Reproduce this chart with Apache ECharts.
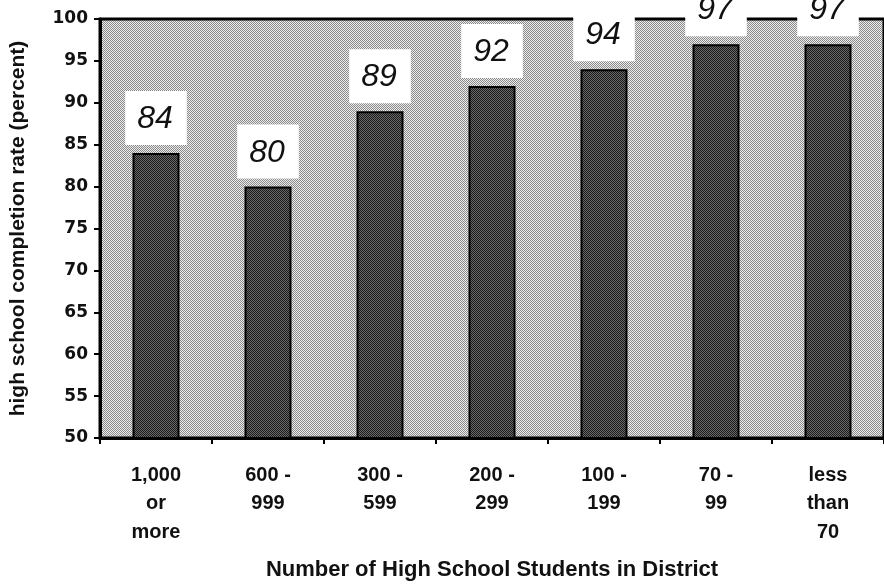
<!DOCTYPE html>
<html>
<head>
<meta charset="utf-8">
<script src="https://cdn.jsdelivr.net/npm/echarts@6/dist/echarts.min.js"></script>
<style>
html,body{margin:0;padding:0;background:#fff;}
#chart{width:884px;height:586px;}
</style>
</head>
<body>
<div id="chart"></div>
<script>
var categories = ['1,000\nor\nmore', '600 -\n999', '300 -\n599', '200 -\n299', '100 -\n199', '70 -\n99', 'less\nthan\n70'];
var completionRates = [84, 80, 89, 92, 94, 97, 97];
var yTicks = [50, 55, 60, 65, 70, 75, 80, 85, 90, 95, 100];

function makePattern(bg, fg, size) {
  var c = document.createElement('canvas');
  c.width = size; c.height = size;
  var ctx = c.getContext('2d');
  ctx.fillStyle = bg;
  ctx.fillRect(0, 0, size, size);
  ctx.fillStyle = fg;
  for (var y = 0; y < size; y++) {
    for (var x = 0; x < size; x++) {
      if ((x + y) % 2 === 0) ctx.fillRect(x, y, 1, 1);
    }
  }
  return { image: c, repeat: 'repeat' };
}

var bgPattern = makePattern('#ececec', '#8a8a8a', 4);
var barPattern = makePattern('#6a6a6a', '#1a1a1a', 4);

var chart = echarts.init(document.getElementById('chart'), null, { renderer: 'canvas' });
chart.setOption({
  animation: false,
  backgroundColor: '#ffffff',
  grid: {
    left: 99, right: -6, top: 19, bottom: 143,
    show: true,
    backgroundColor: bgPattern,
    borderColor: '#000',
    borderWidth: 3
  },
  xAxis: {
    type: 'category',
    data: categories,
    boundaryGap: true,
    name: 'Number of High School Students in District',
    nameLocation: 'middle',
    nameGap: 121,
    nameTextStyle: { fontFamily: 'Liberation Sans', fontWeight: 'bold', fontSize: 22, color: '#111' },
    axisLine: { lineStyle: { color: '#000', width: 3 } },
    axisTick: { show: true, alignWithLabel: false, length: 6, lineStyle: { color: '#000', width: 2 } },
    axisLabel: {
      fontFamily: 'Liberation Sans', fontWeight: 'bold', fontSize: 20, color: '#111',
      lineHeight: 28.5, margin: 23, interval: 0
    },
    splitLine: { show: false }
  },
  yAxis: {
    type: 'value',
    min: 50, max: 100, interval: 5,
    name: 'high school completion rate (percent)',
    nameLocation: 'middle',
    nameGap: 71,
    nameRotate: 90,
    nameTextStyle: { fontFamily: 'Liberation Sans', fontWeight: 'bold', fontSize: 21, color: '#111' },
    axisLine: { show: true, lineStyle: { color: '#000', width: 3 } },
    axisTick: { show: true, length: 6, lineStyle: { color: '#000', width: 2 } },
    axisLabel: {
      fontFamily: 'DejaVu Sans', fontWeight: 'bold', fontSize: 17, color: '#111', margin: 12,
      formatter: function (v) { return yTicks.indexOf(v) >= 0 ? String(v) : ''; }
    },
    splitLine: { show: false }
  },
  series: [{
    type: 'bar',
    data: completionRates,
    barWidth: 47,
    itemStyle: { color: barPattern, borderColor: '#000', borderWidth: 2 },
    label: {
      show: true,
      position: 'top',
      distance: 8,
      backgroundColor: '#ffffff',
      padding: [12, 14, 10, 12],
      fontFamily: 'Liberation Sans',
      fontStyle: 'italic',
      fontWeight: 'lighter',
      fontSize: 32,
      color: '#111'
    }
  }]
});
</script>
</body>
</html>
